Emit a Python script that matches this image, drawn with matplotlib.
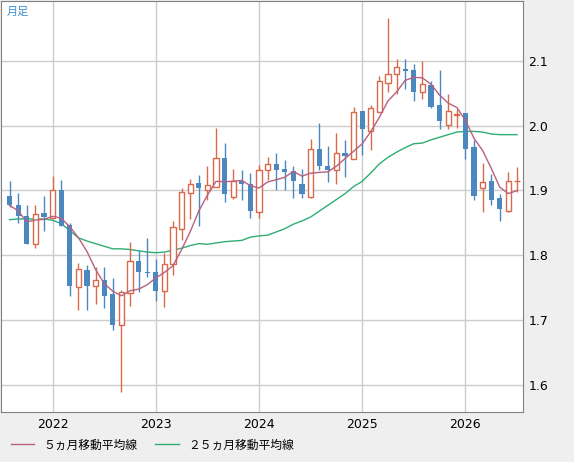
import numpy as np
import pandas as pd
import matplotlib
matplotlib.use("Agg")
import matplotlib.pyplot as plt
from matplotlib.lines import Line2D

plt.rcParams['font.family'] = ['Noto Sans CJK JP', 'DejaVu Sans']

# ── monthly candles, Aug 2021 .. Jul 2026 ──────────────────────────────
opens = [1.891, 1.878, 1.861, 1.817, 1.865, 1.857, 1.901, 1.846, 1.751, 1.777,
         1.753, 1.762, 1.740, 1.693, 1.742, 1.791, 1.775, 1.774, 1.745, 1.786,
         1.841, 1.896, 1.911, 1.900, 1.906, 1.950, 1.890, 1.914, 1.910, 1.867,
         1.932, 1.941, 1.933, 1.930, 1.910, 1.890, 1.964, 1.937, 1.932, 1.958,
         1.949, 2.022, 1.991, 2.021, 2.066, 2.079, 2.087, 2.085, 2.051, 2.062,
         2.031, 2.001, 2.017, 2.019, 1.967, 1.903, 1.915, 1.888, 1.869, 1.914]
closes = [1.877, 1.860, 1.817, 1.864, 1.859, 1.901, 1.845, 1.752, 1.779, 1.752,
          1.762, 1.738, 1.692, 1.744, 1.791, 1.774, 1.772, 1.745, 1.786, 1.843,
          1.898, 1.910, 1.904, 1.908, 1.950, 1.895, 1.914, 1.910, 1.868, 1.932,
          1.941, 1.932, 1.928, 1.914, 1.895, 1.964, 1.938, 1.932, 1.958, 1.953,
          2.021, 1.995, 2.027, 2.068, 2.079, 2.090, 2.084, 2.051, 2.064, 2.029,
          2.007, 2.022, 2.018, 1.964, 1.891, 1.913, 1.886, 1.871, 1.915, 1.914]
highs = [1.915, 1.896, 1.877, 1.878, 1.891, 1.922, 1.916, 1.850, 1.788, 1.785,
         1.782, 1.782, 1.765, 1.746, 1.821, 1.808, 1.827, 1.795, 1.804, 1.853,
         1.903, 1.917, 1.924, 1.938, 1.997, 1.973, 1.933, 1.931, 1.927, 1.939,
         1.952, 1.957, 1.947, 1.938, 1.933, 1.979, 2.004, 1.969, 1.988, 1.978,
         2.029, 2.022, 2.031, 2.077, 2.166, 2.103, 2.103, 2.095, 2.100, 2.069,
         2.085, 2.049, 2.026, 2.019, 1.977, 1.942, 1.926, 1.895, 1.928, 1.936]
lows = [1.874, 1.850, 1.817, 1.812, 1.837, 1.857, 1.845, 1.737, 1.715, 1.715,
        1.725, 1.719, 1.685, 1.590, 1.722, 1.744, 1.767, 1.730, 1.721, 1.769,
        1.823, 1.856, 1.845, 1.885, 1.905, 1.882, 1.887, 1.886, 1.858, 1.858,
        1.916, 1.900, 1.900, 1.888, 1.889, 1.889, 1.932, 1.913, 1.910, 1.920,
        1.948, 1.955, 1.963, 2.021, 2.051, 2.049, 2.056, 2.038, 2.041, 2.027,
        1.995, 1.995, 1.997, 1.949, 1.885, 1.867, 1.877, 1.853, 1.867, 1.897]
ma25 = [1.855, 1.856, 1.856, 1.856, 1.856, 1.854, 1.849, 1.838, 1.827, 1.822,
        1.818, 1.814, 1.810, 1.810, 1.809, 1.807, 1.805, 1.804, 1.805, 1.808,
        1.811, 1.815, 1.818, 1.817, 1.819, 1.821, 1.822, 1.823, 1.828, 1.830,
        1.831, 1.836, 1.841, 1.848, 1.853, 1.859, 1.868, 1.877, 1.886, 1.895,
        1.906, 1.914, 1.927, 1.941, 1.951, 1.959, 1.966, 1.972, 1.973, 1.978,
        1.982, 1.986, 1.990, 1.991, 1.991, 1.990, 1.987, 1.986, 1.986, 1.986]
year_ticks = [5, 17, 29, 41, 53]
year_labels = ["2022", "2023", "2024", "2025", "2026"]
y_ticks = [1.6, 1.7, 1.8, 1.9, 2.0, 2.1]

UP = "#d9694a"
DOWN = "#4a88bf"
MA5_C = "#b8607f"
MA25_C = "#2eae72"

ma5 = pd.Series(closes).rolling(5, min_periods=1).mean().values
x = np.arange(len(closes))

fig = plt.figure(figsize=(5.74, 4.62), dpi=100, facecolor="#efefef")
ax = fig.add_axes([1/574, 50/462, 522/574, 411/462])
ax.set_facecolor("white")

for i in x:
    o, c, h, l = opens[i], closes[i], highs[i], lows[i]
    up = c >= o
    col = UP if up else DOWN
    ax.vlines(i, l, h, color=col, lw=1, zorder=2)
    lo, hi = min(o, c), max(o, c)
    if up:
        ax.bar(i, max(hi - lo, 0.001), bottom=lo, width=0.62, facecolor="white",
               edgecolor=col, lw=1, zorder=3)
    else:
        ax.bar(i, max(hi - lo, 0.001), bottom=lo, width=0.62, color=col, zorder=3)

ax.plot(x, ma5, color=MA5_C, lw=1, zorder=4)
ax.plot(x, ma25, color=MA25_C, lw=1, zorder=1.5)

ax.set_xlim(-1.0, 59.7)
ax.set_ylim(1.5585, 2.192)
ax.set_xticks(year_ticks)
ax.set_xticklabels(year_labels, family="DejaVu Sans", fontsize=9)
ax.set_yticks(y_ticks)
ax.set_yticklabels([f"{v:.1f}" for v in y_ticks], family="DejaVu Sans", fontsize=9)
ax.yaxis.tick_right()
ax.tick_params(length=0, pad=4)
ax.grid(color="#cccccc", lw=1)
ax.set_axisbelow(True)
for s in ax.spines.values():
    s.set_color("#808080")

ax.text(0.01, 0.985, "月足", transform=ax.transAxes, color="#3a8fd0",
        fontsize=8, va="top", ha="left")

handles = [Line2D([], [], color=MA5_C, lw=1), Line2D([], [], color=MA25_C, lw=1)]
fig.legend(handles, ["５ヵ月移動平均線", "２５ヵ月移動平均線"], loc="lower left",
           bbox_to_anchor=(0.0, 0.0), ncol=2, frameon=False, fontsize=8.5,
           handlelength=2, columnspacing=1.5)

fig.savefig("out.png", dpi=100, facecolor=fig.get_facecolor())
